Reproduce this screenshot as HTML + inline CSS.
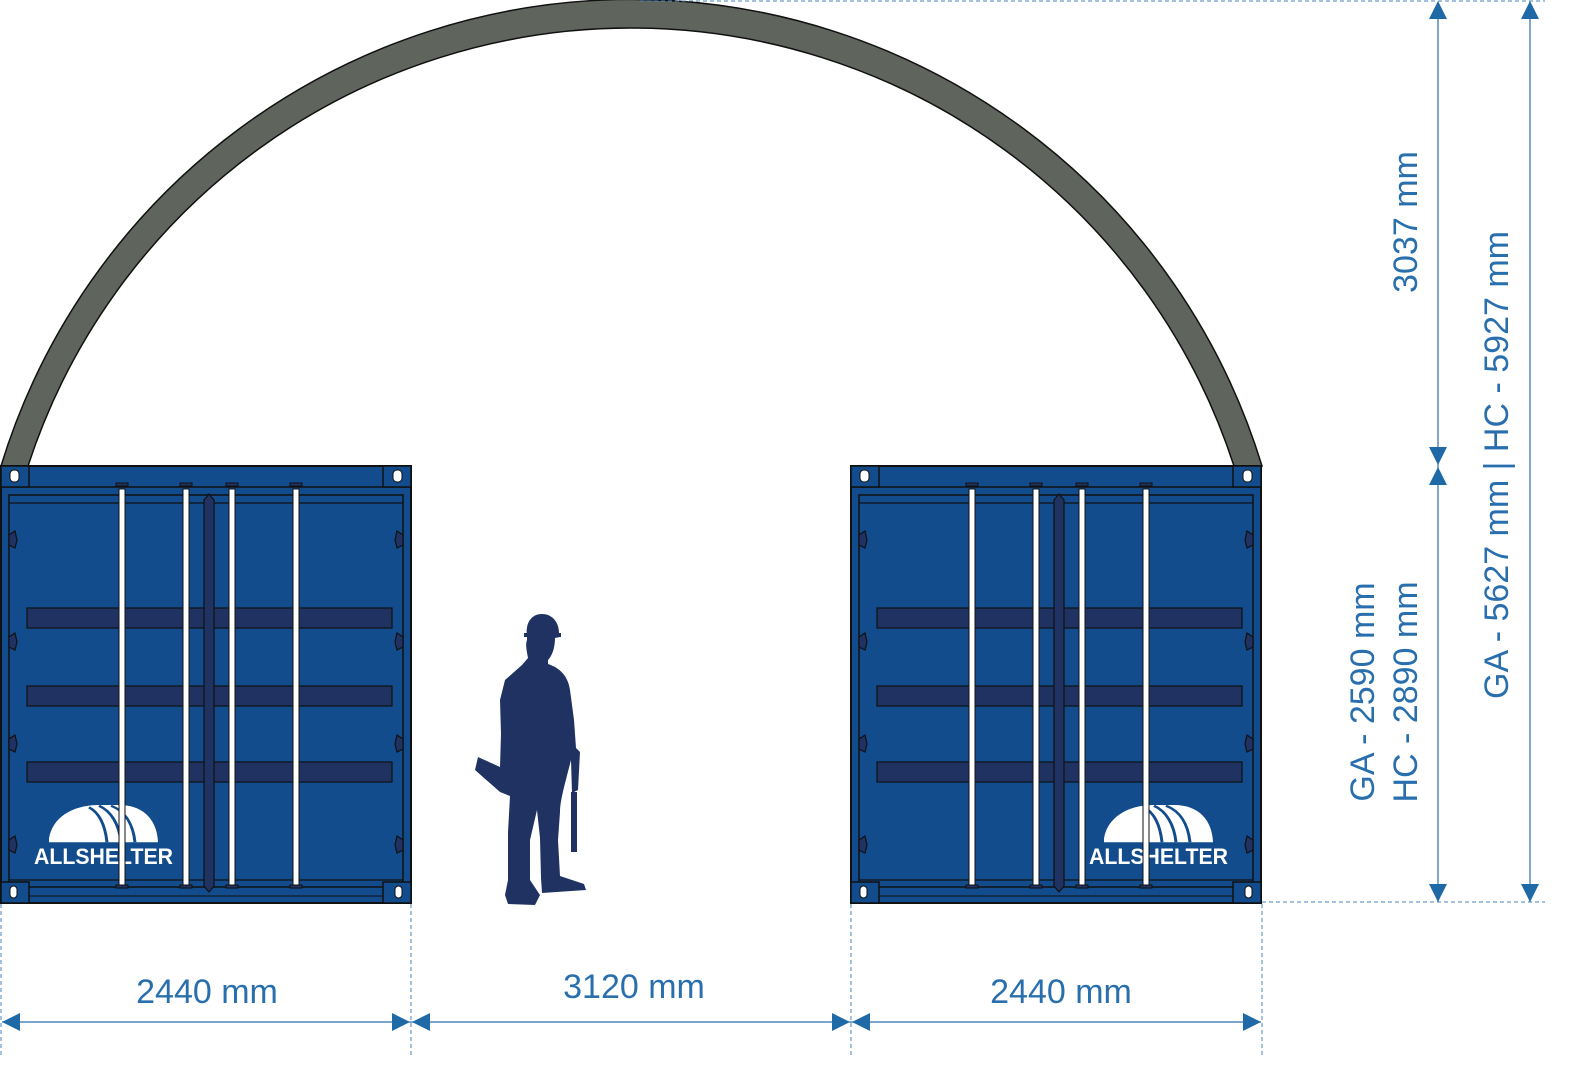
<!DOCTYPE html>
<html><head><meta charset="utf-8"><style>
html,body{margin:0;padding:0;background:#fff;overflow:hidden;width:1593px;height:1074px;}
svg{display:block;}
text{font-family:"Liberation Sans",sans-serif;}
</style></head><body>
<svg width="1593" height="1074" viewBox="0 0 1593 1074" xmlns="http://www.w3.org/2000/svg">
<defs>
<g id="cont">
  <rect x="1" y="466" width="410" height="437" fill="#124c8c" stroke="#111" stroke-width="2"/>
  <line x1="1" y1="487" x2="411" y2="487" stroke="#111" stroke-width="1.5"/>
  <rect x="9" y="495" width="394" height="392" fill="#124c8c" stroke="#111" stroke-width="1.5"/>
  <line x1="9" y1="503" x2="403" y2="503" stroke="#111" stroke-width="1.2"/>
  <line x1="9" y1="880" x2="403" y2="880" stroke="#111" stroke-width="1.2"/>
  <line x1="1" y1="896" x2="411" y2="896" stroke="#111" stroke-width="1"/>
  <rect x="1" y="466" width="28" height="21" fill="#124c8c" stroke="#111" stroke-width="1.5"/>
  <rect x="383" y="466" width="28" height="21" fill="#124c8c" stroke="#111" stroke-width="1.5"/>
  <rect x="1" y="882" width="28" height="21" fill="#124c8c" stroke="#111" stroke-width="1.5"/>
  <rect x="383" y="882" width="28" height="21" fill="#124c8c" stroke="#111" stroke-width="1.5"/>
  <rect x="10" y="470" width="9" height="12" rx="4" fill="#fff" stroke="#111"/>
  <rect x="393" y="470" width="9" height="12" rx="4" fill="#fff" stroke="#111"/>
  <rect x="10" y="886" width="7" height="12" rx="3.5" fill="#fff" stroke="#111"/>
  <rect x="395" y="886" width="7" height="12" rx="3.5" fill="#fff" stroke="#111"/>
  <g fill="#1f3262" stroke="#111" stroke-width="1.2">
    <rect x="27" y="608" width="365" height="20"/>
    <rect x="27" y="686" width="365" height="20"/>
    <rect x="27" y="762" width="365" height="20"/>
    <path d="M204 500 L209 494 L214 500 L214 886 L209 892 L204 886Z"/>
    <path d="M9 535 L15 531 L17 540 L15 548 L9 545Z"/>
    <path d="M9 637 L15 633 L17 642 L15 650 L9 647Z"/>
    <path d="M9 739 L15 735 L17 744 L15 752 L9 749Z"/>
    <path d="M9 840 L15 836 L17 845 L15 853 L9 850Z"/>
    <path d="M403 535 L397 531 L395 540 L397 548 L403 545Z"/>
    <path d="M403 637 L397 633 L395 642 L397 650 L403 647Z"/>
    <path d="M403 739 L397 735 L395 744 L397 752 L403 749Z"/>
    <path d="M403 840 L397 836 L395 845 L397 853 L403 850Z"/>
  </g>
</g>
<g id="rods">
  <g fill="#fff" stroke="#111" stroke-width="1">
    <rect x="119" y="489" width="6" height="399"/>
    <rect x="183" y="489" width="6" height="399"/>
    <rect x="229" y="489" width="6" height="399"/>
    <rect x="293" y="489" width="6" height="399"/>
  </g>
  <g fill="#1f3262" stroke="#111" stroke-width="1">
    <rect x="116" y="483" width="12" height="3"/><rect x="180" y="483" width="12" height="3"/>
    <rect x="226" y="483" width="12" height="3"/><rect x="290" y="483" width="12" height="3"/>
    <rect x="116" y="885" width="12" height="3"/><rect x="180" y="885" width="12" height="3"/>
    <rect x="226" y="885" width="12" height="3"/><rect x="290" y="885" width="12" height="3"/>
  </g>
</g>
<g id="logo">
  <g transform="scale(1,0.76)">
  <path d="M0 49 L0 44 C3 18 22 0 50 0 L70 0 C95 0 108 20 109 49 Z" fill="#fff"/>
  <path d="M58 49 C56 25 50 10 40 3" fill="none" stroke="#124c8c" stroke-width="3"/>
  <path d="M72 49 C70 25 62 8 50 1" fill="none" stroke="#124c8c" stroke-width="3"/>
  <path d="M86 49 C84 25 76 8 62 1" fill="none" stroke="#124c8c" stroke-width="3"/>
  </g>
  <text x="-15" y="59" font-size="22" font-weight="bold" fill="#fff" textLength="139" lengthAdjust="spacingAndGlyphs">ALLSHELTER</text>
</g>
</defs>

<!-- arch -->
<path d="M1 466 A659.3 659.3 0 0 1 1262 466 L1234 466 A634.1 634.1 0 0 0 28 466 Z" fill="#5f655d" stroke="#111" stroke-width="1.5"/>

<use href="#cont"/>
<use href="#cont" transform="translate(850,0)"/>
<use href="#logo" transform="translate(49,805)"/>
<use href="#logo" transform="translate(1104,805)"/>
<use href="#rods"/>
<use href="#rods" transform="translate(850,0)"/>

<!-- person -->
<g fill="#1f3262">
  <path d="M527 637 C525 622 532 614 542 614 C552 614 559 622 559 633 L560 637 L555 638 C555 648 552 656 548 660 L548 664 C560 668 568 676 570 690 L574 720 L576 748 L580 752 L578 790 L572 793 L571 760 C566 780 560 800 560 812 L558 840 L560 876 L584 884 L586 890 L542 893 L541 878 L540 838 L537 810 L530 840 L530 880 L540 895 L535 905 L508 904 L505 895 L508 880 L508 832 L510 796 L500 792 L475 770 L478 757 L500 767 L501 734 L500 700 L505 680 L522 665 L528 658 C527 652 525 645 527 640 Z"/>
  <rect x="571" y="792" width="6" height="60"/>
  <rect x="524" y="633" width="37" height="4"/>
</g>

<!-- dashed guides -->
<g stroke="#4a86c0" stroke-width="1" stroke-dasharray="4,3" fill="none">
  <line x1="640" y1="1" x2="1545" y2="1"/>
  <line x1="1262" y1="902" x2="1545" y2="902"/>
  <line x1="1" y1="904" x2="1" y2="1055"/>
  <line x1="411" y1="904" x2="411" y2="1055"/>
  <line x1="851" y1="904" x2="851" y2="1055"/>
  <line x1="1262" y1="904" x2="1262" y2="1055"/>
</g>

<!-- dimension lines -->
<g stroke="#2a6fad" stroke-width="1.2">
  <line x1="1438" y1="2" x2="1438" y2="902"/>
  <line x1="1530" y1="2" x2="1530" y2="902"/>
  <line x1="2" y1="1022" x2="1261" y2="1022"/>
</g>
<g fill="#1f6aa6">
  <path d="M1438 1 L1447 19 L1429 19Z"/>
  <path d="M1438 465 L1447 447 L1429 447Z"/>
  <path d="M1438 467 L1447 485 L1429 485Z"/>
  <path d="M1438 902 L1447 884 L1429 884Z"/>
  <path d="M1530 1 L1539 19 L1521 19Z"/>
  <path d="M1530 902 L1539 884 L1521 884Z"/>
  <path d="M2 1022 L20 1013 L20 1031Z"/>
  <path d="M410 1022 L392 1013 L392 1031Z"/>
  <path d="M412 1022 L430 1013 L430 1031Z"/>
  <path d="M850 1022 L832 1013 L832 1031Z"/>
  <path d="M852 1022 L870 1013 L870 1031Z"/>
  <path d="M1261 1022 L1243 1013 L1243 1031Z"/>
</g>

<g fill="#2a6fad" font-size="34" text-anchor="middle">
  <text x="207" y="1003">2440 mm</text>
  <text x="634" y="998">3120 mm</text>
  <text x="1061" y="1003">2440 mm</text>
  <text transform="translate(1417,222) rotate(-90)">3037 mm</text>
  <text transform="translate(1374,692) rotate(-90)">GA - 2590 mm</text>
  <text transform="translate(1417,692) rotate(-90)">HC - 2890 mm</text>
  <text transform="translate(1508,465) rotate(-90)">GA - 5627 mm | HC - 5927 mm</text>
</g>
</svg>
</body></html>
